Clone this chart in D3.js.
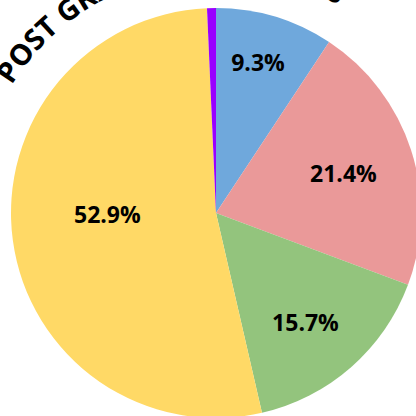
<!DOCTYPE html>
<html>
<head>
<meta charset="utf-8">
<script src="https://cdn.jsdelivr.net/npm/d3@7"></script>
<style>
  html, body { margin: 0; padding: 0; background: #ffffff; overflow: hidden; }
  svg { display: block; }
</style>
</head>
<body>
<script>
// ---- data ----
const categories = ["Under Graduate", "Graduate", "Diploma", "Higher Secondary", "Post Graduate"];
const values = [9.3, 21.4, 15.7, 52.9, 0.7];
const colors = ["#6fa8dc", "#ea9999", "#93c47d", "#ffd966", "#9900ff"];
const outerTitle = "POST GRADUATE DEGREES";

// ---- layout (not data) ----
const W = 416, H = 416;
const cx = 216, cy = 213, R = 205;
const labelRadius = [0.76, 0.65, 0.69, 0.53, 0];
const labelShift = [-1.1, 1.0, 2.0, 6.8, 0]; // degrees
const minLabelPct = 1;

const svg = d3.select("body").append("svg")
  .attr("width", W).attr("height", H);

svg.append("rect").attr("width", W).attr("height", H).attr("fill", "#ffffff");

const g = svg.append("g").attr("transform", `translate(${cx},${cy})`);

const pie = d3.pie().sort(null).value(d => d.v).startAngle(0).endAngle(2 * Math.PI);
const data = categories.map((c, i) => ({ c, v: values[i], i }));
const arcs = pie(data);
const arc = d3.arc().innerRadius(0).outerRadius(R);

g.selectAll("path.slice").data(arcs).enter().append("path")
  .attr("class", "slice")
  .attr("d", arc)
  .attr("fill", d => colors[d.data.i]);

// curved outer title (mostly outside the visible frame)
const rT = 241, a0 = -58 * Math.PI / 180, a1 = 80 * Math.PI / 180;
const p = d3.path();
p.moveTo(rT * Math.sin(a0), -rT * Math.cos(a0));
p.arc(0, 0, rT, a0 - Math.PI / 2, a1 - Math.PI / 2, false);
g.append("path").attr("id", "titlePath").attr("d", p.toString()).attr("fill", "none");
g.append("text")
  .attr("font-family", "'Open Sans', 'Noto Sans', sans-serif")
  .attr("font-weight", "bold")
  .attr("font-size", 29)
  .attr("fill", "#000")
  .append("textPath")
  .attr("href", "#titlePath")
  .text(outerTitle);

g.selectAll("text.pct").data(arcs.filter(d => d.data.v >= minLabelPct)).enter().append("text")
  .attr("class", "pct")
  .attr("transform", d => {
    const a = (d.startAngle + d.endAngle) / 2 + labelShift[d.data.i] * Math.PI / 180;
    const r = R * labelRadius[d.data.i];
    return `translate(${r * Math.sin(a)},${-r * Math.cos(a)})`;
  })
  .attr("text-anchor", "middle")
  .attr("dy", "0.35em")
  .attr("font-family", "'Open Sans', 'Noto Sans', sans-serif")
  .attr("font-weight", "bold")
  .attr("font-size", 23)
  .attr("fill", "#000")
  .text(d => d3.format(".1f")(d.data.v) + "%");
</script>
</body>
</html>
